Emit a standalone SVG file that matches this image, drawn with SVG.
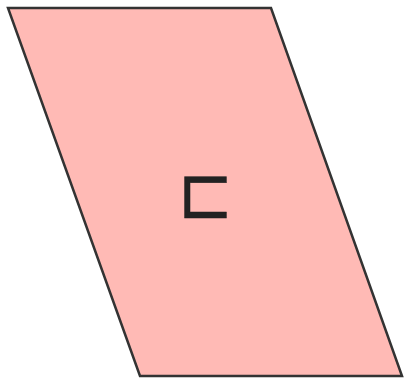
<svg xmlns="http://www.w3.org/2000/svg" width="406" height="378" viewBox="0 0 406 378">
<style>
.shape{fill:#ffbab5;stroke:#333333;stroke-width:2.5;stroke-linejoin:miter}
.lbl{font-family:"DejaVu Sans",sans-serif;font-size:73px;fill:#222222;stroke:#222222;stroke-width:0.4;stroke-linejoin:round;text-anchor:middle}
</style>
<rect width="406" height="378" fill="#ffffff"/>
<g id="node-c">
<polygon class="shape" points="8,8 271,8 402,376 140,376"/>
<text class="lbl" x="0" y="0" transform="translate(205.5,217.5) scale(0.92,1)">⊏</text>
</g>
<g id="connectors"></g>
</svg>
